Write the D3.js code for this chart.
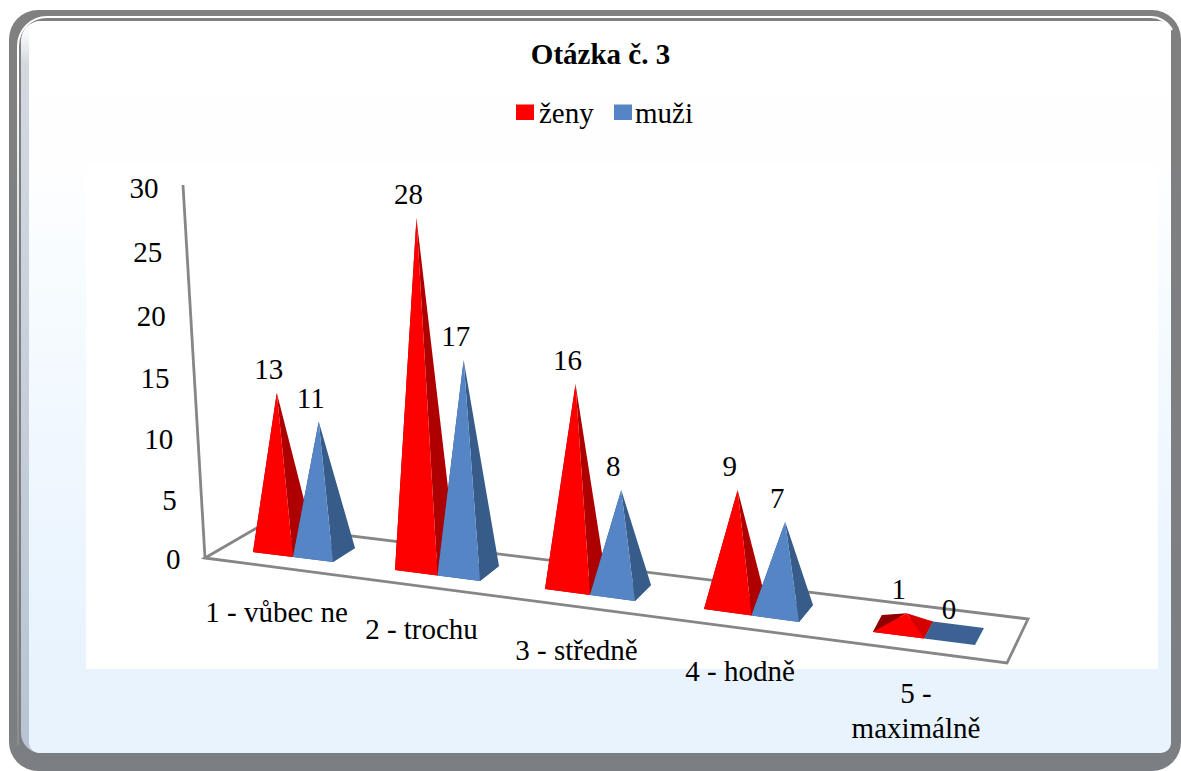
<!DOCTYPE html>
<html>
<head>
<meta charset="utf-8">
<script src="https://cdn.jsdelivr.net/npm/d3@7"></script>
<style>
html,body{margin:0;padding:0;background:#fff;overflow:hidden}
svg{display:block}
text{font-family:"Liberation Serif",serif;fill:#000}
</style>
</head>
<body>
<div id="chart"></div>
<script>
// ---- data ----
const title = "Otázka č. 3";
const categories = [["1 - vůbec ne"], ["2 - trochu"], ["3 - středně"], ["4 - hodně"], ["5 -", "maximálně"]];
const seriesNames = ["ženy", "muži"];
const zeny = [13, 28, 16, 9, 1];
const muzi = [11, 17, 8, 7, 0];
const yTicks = [0, 5, 10, 15, 20, 25, 30];

// ---- layout ----
const W = 1181, H = 771;
const svg = d3.select("#chart").append("svg").attr("width", W).attr("height", H);
const defs = svg.append("defs");
function grad(id, stops, y1, y2) {
  const g = defs.append("linearGradient").attr("id", id)
    .attr("gradientUnits", "userSpaceOnUse")
    .attr("x1", 0).attr("x2", 0).attr("y1", y1).attr("y2", y2);
  stops.forEach(s => g.append("stop").attr("offset", s[0]).attr("stop-color", s[1]));
}
grad("bgGrad", [[0, "#ffffff"], [0.2, "#fefeff"], [0.4, "#f5fbff"], [0.88, "#e8f3fe"], [1, "#e8f3fe"]], 21, 753);
grad("stripGrad", [[0, "#ffffff"], [0.05, "#d4d9e0"], [1, "#b8c4d3"]], 28, 750);
grad("ringGrad", [[0, "#ffffff"], [0.08, "#ffffff"], [0.45, "#c4c6c8"], [1, "#8c8c8c"]], 17, 745);
grad("frameGrad", [[0, "#808080"], [1, "#7b7e83"]], 10, 771);

// frame
svg.append("rect").attr("x", 9).attr("y", 10).attr("width", 1172).attr("height", 761).attr("rx", 29)
  .attr("fill", "url(#frameGrad)");
svg.append("path").attr("d", "M18,745 V46 A29,29 0 0 1 47,17 H1150 A24,24 0 0 1 1172,30")
  .attr("fill", "none").attr("stroke", "url(#ringGrad)").attr("stroke-width", 2);
svg.append("rect").attr("x", 21).attr("y", 21).attr("width", 40).attr("height", 732).attr("rx", 20)
  .attr("fill", "url(#stripGrad)");
svg.append("rect").attr("x", 29).attr("y", 21).attr("width", 1142).attr("height", 732).attr("rx", 10)
  .attr("fill", "url(#bgGrad)");
svg.append("rect").attr("x", 86).attr("y", 163).attr("width", 1072).attr("height", 506).attr("fill", "#fff");

// title & legend
svg.append("text").attr("x", 600.5).attr("y", 64).attr("text-anchor", "middle")
  .attr("font-size", 29).attr("font-weight", "bold").text(title);
const seriesColor = d3.scaleOrdinal().domain(seriesNames).range(["#ff0000", "#5585c5"]);
const legendX = d3.scaleOrdinal().domain(seriesNames).range([516, 614]);
const legendTextX = d3.scaleOrdinal().domain(seriesNames).range([539, 635]);
seriesNames.forEach(n => {
  svg.append("rect").attr("x", legendX(n)).attr("y", 104.5).attr("width", 18).attr("height", 15.5).attr("fill", seriesColor(n));
  svg.append("text").attr("x", legendTextX(n)).attr("y", 123).attr("font-size", 29).text(n);
});

// floor + vertical axis
const axisLine = { stroke: "#868686", "stroke-width": 2.8 };
const floorPts = [[205, 558], [1007, 663], [1028, 619], [262, 525]];
svg.append("path").attr("d", d3.line()(floorPts) + "Z").attr("fill", "none")
  .attr("stroke", axisLine.stroke).attr("stroke-width", axisLine["stroke-width"]).attr("stroke-linejoin", "miter");
const axisX = d3.scaleLinear().domain([0, 30]).range([205, 183]);
const axisY = d3.scaleLinear().domain([0, 30]).range([558, 185]);
svg.append("line").attr("x1", axisX(0)).attr("y1", axisY(0)).attr("x2", axisX(30)).attr("y2", axisY(30))
  .attr("stroke", axisLine.stroke).attr("stroke-width", axisLine["stroke-width"]);
const tickBaseY = d3.scaleLinear().domain(yTicks).range([569, 510, 449, 388, 326, 262, 198]);
svg.append("g").selectAll("text").data(yTicks).join("text")
  .attr("x", d => axisX(d) - 24.5).attr("y", d => tickBaseY(d))
  .attr("text-anchor", "end").attr("font-size", 29).text(d => d);

// perspective scales, one stop per category
const idx = categories.map((_, i) => i);
const leftX = d3.scaleLinear().domain(idx).range([253, 395, 545, 704, 873]);
const leftY = d3.scaleLinear().domain(idx).range([552, 570, 589, 609, 632]);
const barW = d3.scaleLinear().domain(idx).range([40, 42.5, 45, 47.5, 51]);
const barDrop = d3.scaleLinear().domain(idx).range([5, 5.5, 6, 6.5, 6.5]);
const depthX = d3.scaleLinear().domain(idx).range([22, 19, 16, 14, 9]);
const depthY = d3.scaleLinear().domain(idx).range([-14, -15, -16, -17, -17]);
const unit = d3.scaleLinear().domain(idx).range([11.9, 12.4, 12.5, 12.65, 13.5]);
const apexShift = d3.scaleLinear().domain(idx).range([0, -1, 0, 0, 3]);
const vanishX = 575, lean = 1.6e-4;

const palette = [
  { front: "#ff0000", right: d3.scaleLinear().domain([1, 3]).range(["#d40000", "#ae0000"]).clamp(true), left: "#8f0000" },
  { front: "#5585c5", right: d3.scaleLinear().domain([1, 3]).range(["#3b6292", "#375c8a"]).clamp(true), left: "#2f5078" }
];
const polys = svg.append("g");
const poly = pts => d3.line()(pts) + "Z";
const apexes = [];
idx.forEach(c => {
  [zeny, muzi].forEach((vals, s) => {
    const v = vals[c], w = barW(c), dr = barDrop(c), dx = depthX(c), dy = depthY(c);
    const fl = [leftX(c) + s * w, leftY(c) + s * dr];
    const fr = [fl[0] + w, fl[1] + dr];
    const br = [fr[0] + dx, fr[1] + dy];
    const bl = [fl[0] + dx, fl[1] + dy];
    const cx = (fl[0] + br[0]) / 2, cy = (fl[1] + br[1]) / 2;
    const h = v * unit(c);
    const apex = [cx + apexShift(c) + (cx - vanishX) * h * lean, cy - h];
    const p = palette[s];
    const side = p.right(v);
    polys.append("path").attr("d", poly([fl, fr, br, bl])).attr("fill", side);
    if (v > 0) {
      polys.append("path").attr("d", poly([fl, bl, apex])).attr("fill", p.left);
      polys.append("path").attr("d", poly([fr, br, apex])).attr("fill", side);
      polys.append("path").attr("d", poly([fl, fr, apex])).attr("fill", p.front);
    }
    apexes.push({ v, x: apex[0], y: apex[1] });
  });
});

// value labels
svg.append("g").selectAll("text").data(apexes).join("text")
  .attr("x", d => d.x - 8).attr("y", d => d.y - 14)
  .attr("text-anchor", "middle").attr("font-size", 29).text(d => d.v);

// category labels
const catX = d3.scaleLinear().domain(idx).range([276.5, 421.5, 576.5, 740, 916]);
const catY = d3.scaleLinear().domain(idx).range([622, 639, 660, 681, 703]);
const catG = svg.append("g");
categories.forEach((lines, c) => {
  lines.forEach((t, j) => {
    catG.append("text").attr("x", catX(c)).attr("y", catY(c) + j * 35)
      .attr("text-anchor", "middle").attr("font-size", 29).text(t);
  });
});
</script>
</body>
</html>
